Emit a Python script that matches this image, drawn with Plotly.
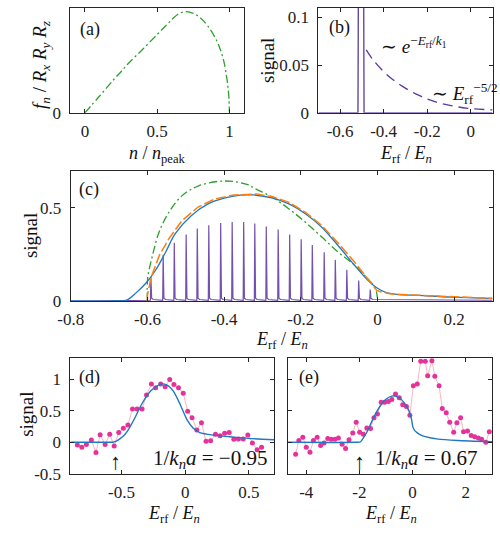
import plotly.graph_objects as go

# ---------------- data ----------------
# (a) theory curve
a_n = [0, 0.1, 0.2, 0.25, 0.3, 0.4, 0.5, 0.55, 0.6, 0.65, 0.7, 0.75, 0.8, 0.85, 0.9, 0.93, 0.96, 0.98, 0.99, 0.997, 1.0]
a_f = [0, 0.79, 1.59, 1.96, 2.35, 3.03, 3.73, 4.08, 4.43, 4.72, 4.82, 4.74, 4.52, 4.14, 3.60, 3.15, 2.50, 1.75, 1.25, 0.70, 0]

# (b) single spectrum and tail
b_x = [-0.7, -0.518, -0.504, -0.49, 0.1]
b_y = [0, 0, 1.0, 0, 0]
b_tail_x = [-0.48, -0.45, -0.39, -0.315, -0.24, -0.165, -0.09, -0.015, 0.1]
b_tail_y = [0.066, 0.056, 0.041, 0.028, 0.0185, 0.0117, 0.0076, 0.0048, 0.0031]

# (c) spikes
c_spike_pos = [-0.591, -0.559, -0.530, -0.499, -0.470, -0.440, -0.409, -0.379, -0.349, -0.320,
               -0.290, -0.259, -0.229, -0.199, -0.170, -0.139, -0.110, -0.080, -0.049, -0.019]
c_spike_h = [0.13, 0.248, 0.313, 0.357, 0.389, 0.407, 0.419, 0.424, 0.424, 0.416,
             0.401, 0.384, 0.357, 0.332, 0.301, 0.262, 0.221, 0.168, 0.110, 0.062]
# (c) green dash-dot
c_green_x = [-0.6, -0.5993, -0.5865, -0.5695, -0.5441, -0.5103, -0.4679, -0.40, -0.3408, -0.3154, -0.273,
             -0.2308, -0.1884, -0.1459, -0.1036, -0.0612, -0.0274, -0.0061, -0.0003]
c_green_y = [0, 0.124, 0.247, 0.371, 0.477, 0.565, 0.618, 0.645, 0.627, 0.600, 0.556,
             0.495, 0.424, 0.345, 0.265, 0.195, 0.124, 0.071, 0.018]
# (c) orange dashed
c_orange_x = [-0.6, -0.6, -0.591, -0.569, -0.544, -0.510, -0.468, -0.425, -0.375, -0.33, -0.315, -0.273,
              -0.231, -0.188, -0.146, -0.104, -0.061, -0.027, -0.002, 0.008, 0.032, 0.049, 0.108, 0.193, 0.3]
c_orange_y = [0, 0.03, 0.124, 0.245, 0.335, 0.432, 0.505, 0.548, 0.570, 0.575, 0.575, 0.560,
              0.530, 0.477, 0.407, 0.315, 0.212, 0.124, 0.057, 0.050, 0.039, 0.036, 0.030, 0.021, 0.014]
# (c) blue solid
c_blue_x = [-0.8, -0.68, -0.654, -0.629, -0.603, -0.578, -0.552, -0.527, -0.485, -0.442, -0.400, -0.358, -0.324,
            -0.273, -0.231, -0.188, -0.146, -0.104, -0.061, -0.027, -0.002, 0.023, 0.049, 0.108, 0.193, 0.3]
c_blue_y = [0, 0, 0.005, 0.045, 0.098, 0.168, 0.265, 0.363, 0.460, 0.522, 0.553, 0.569, 0.570,
            0.553, 0.522, 0.469, 0.398, 0.301, 0.195, 0.115, 0.071, 0.045, 0.036, 0.030, 0.021, 0.014]

# (d) data and fit
d_x = [-0.846, -0.811, -0.775, -0.736, -0.700, -0.667, -0.628, -0.592, -0.557, -0.521, -0.485, -0.449,
       -0.413, -0.377, -0.338, -0.303, -0.265, -0.231, -0.192, -0.157, -0.121, -0.088, -0.052, -0.015,
       0.020, 0.054, 0.092, 0.128, 0.164, 0.200, 0.238, 0.274, 0.310, 0.346, 0.382, 0.418, 0.456, 0.492,
       0.528, 0.565, 0.60]
d_y = [-0.042, -0.078, -0.036, 0.036, -0.161, 0.120, -0.036, 0.130, -0.057, 0.156, 0.224, 0.276,
       0.531, 0.531, 0.531, 0.755, 0.927, 0.870, 0.927, 0.885, 1.0, 0.922, 0.870, 0.781,
       0.495, 0.391, 0.198, 0.313, 0.016, 0.026, 0.130, 0.104, 0.146, 0.156, 0.047, 0.052, 0.052, 0.115,
       -0.01, -0.12, -0.08]
d_fit_x = [-0.9, -0.6, -0.565, -0.55, -0.53, -0.513, -0.48, -0.449, -0.398, -0.346, -0.269, -0.192, -0.141,
           -0.09, -0.038, 0.013, 0.064, 0.115, 0.218, 0.346, 0.5, 0.7]
d_fit_y = [0, 0, 0.002, 0.01, 0.03, 0.055, 0.11, 0.19, 0.375, 0.59, 0.82, 0.927, 0.91,
           0.807, 0.599, 0.365, 0.224, 0.156, 0.115, 0.089, 0.063, 0.04]

# (e) data and fit
e_x = [-4.40, -4.28, -4.13, -4.00, -3.86, -3.73, -3.59, -3.46, -3.33, -3.19, -3.06, -2.92, -2.79, -2.65,
       -2.52, -2.39, -2.25, -2.12, -1.99, -1.85, -1.72, -1.58, -1.45, -1.32, -1.18, -1.05, -0.91, -0.78,
       -0.64, -0.50, -0.37, -0.23, -0.10, 0.03, 0.18, 0.31, 0.48, 0.57, 0.73, 0.84, 1.00, 1.12, 1.27,
       1.40, 1.55, 1.67, 1.81, 1.92, 2.07, 2.21, 2.34, 2.48, 2.60, 2.76, 2.89]
e_y = [-0.19, 0.03, 0.08, -0.08, -0.16, 0.03, 0.08, -0.05, -0.01, 0.06, 0.05, 0.05, 0.07, -0.03,
       -0.10, 0.04, 0.15, 0.32, 0.16, 0.13, 0.23, 0.22, 0.39, 0.45, 0.64, 0.64, 0.65, 0.68,
       0.77, 0.71, 0.60, 0.57, 0.43, 0.90, 0.93, 1.29, 1.29, 1.06, 1.30, 1.05, 0.90, 0.54, 0.47,
       0.32, 0.16, 0.31, 0.39, 0.17, 0.18, 0.11, 0.09, 0.07, 0.05, 0.0, 0.17]
e_fit_x = [-4.7, -2.1, -1.96, -1.85, -1.72, -1.47, -1.23, -0.99, -0.74, -0.50, -0.26, -0.12, -0.04, 0.01,
           0.08, 0.17, 0.30, 0.48, 0.97, 1.70, 3.0]
e_fit_y = [0, 0, 0.005, 0.07, 0.16, 0.39, 0.57, 0.69, 0.74, 0.71, 0.60, 0.49, 0.37, 0.25,
           0.19, 0.155, 0.12, 0.09, 0.05, 0.03, 0.01]

# ---------------- styling ----------------
W, H = 500, 538
FONT = "Liberation Serif"
BLUE = "#1f78c1"
ORANGE = "#ff7f0e"
GREEN = "#2ca02c"
PURPLE = "#5b3a9c"
PINK = "#e5329a"
AX = "#262626"


def px(x):
    return x / W


def py(y):
    return 1 - y / H


def axis(domain, rng, tickvals, ticktext, anchor, standoff, showlabels=True):
    return dict(domain=domain, range=rng, tickvals=tickvals, ticktext=ticktext,
                anchor=anchor, showline=True, linecolor=AX, linewidth=1, mirror="ticks",
                ticks="inside", ticklen=4, tickcolor=AX, showgrid=False, zeroline=False,
                showticklabels=showlabels, tickfont=dict(family=FONT, size=17, color="#222"),
                ticklabelstandoff=standoff, fixedrange=True)


fig = go.Figure()

# (a)
fig.add_trace(go.Scatter(x=a_n, y=a_f, mode="lines", xaxis="x", yaxis="y",
                         line=dict(color=GREEN, width=1.3, dash="8px,3px,2px,3px"), line_shape="spline"))
# (b)
fig.add_trace(go.Scatter(x=b_x, y=b_y, mode="lines", xaxis="x2", yaxis="y2",
                         line=dict(color=PURPLE, width=1.3)))
fig.add_trace(go.Scatter(x=b_tail_x, y=b_tail_y, mode="lines", xaxis="x2", yaxis="y2",
                         line=dict(color=PURPLE, width=1.3, dash="10px,6px"), line_shape="spline"))
# (c) spikes built from positions/heights
sx, sy = [-0.8], [0]
for p, h in zip(c_spike_pos, c_spike_h):
    sx += [p - 0.0012, p, p + 0.002, p + 0.006]
    sy += [0.004, h, 0.015, 0.008]
sx += [0.3]
sy += [0.004]
fig.add_trace(go.Scatter(x=sx, y=sy, mode="lines", xaxis="x3", yaxis="y3",
                         line=dict(color="rgba(91,50,160,0.85)", width=1.2)))
fig.add_trace(go.Scatter(x=c_green_x, y=c_green_y, mode="lines", xaxis="x3", yaxis="y3",
                         line=dict(color=GREEN, width=1.3, dash="8px,3px,2px,3px"), line_shape="spline"))
fig.add_trace(go.Scatter(x=c_blue_x, y=c_blue_y, mode="lines", xaxis="x3", yaxis="y3",
                         line=dict(color=BLUE, width=1.3), line_shape="spline"))
fig.add_trace(go.Scatter(x=c_orange_x, y=c_orange_y, mode="lines", xaxis="x3", yaxis="y3",
                         line=dict(color=ORANGE, width=1.5, dash="10px,3px")))
# (d)
fig.add_trace(go.Scatter(x=d_x, y=d_y, mode="lines+markers", xaxis="x4", yaxis="y4",
                         line=dict(color="rgba(250,150,160,0.7)", width=1),
                         marker=dict(color=PINK, size=5)))
fig.add_trace(go.Scatter(x=d_fit_x, y=d_fit_y, mode="lines", xaxis="x4", yaxis="y4",
                         line=dict(color=BLUE, width=1.4), line_shape="spline", line_smoothing=0.6))
# (e)
fig.add_trace(go.Scatter(x=e_x, y=e_y, mode="lines+markers", xaxis="x5", yaxis="y5",
                         line=dict(color="rgba(250,150,160,0.7)", width=1),
                         marker=dict(color=PINK, size=5), cliponaxis=True))
fig.add_trace(go.Scatter(x=e_fit_x, y=e_fit_y, mode="lines", xaxis="x5", yaxis="y5",
                         line=dict(color=BLUE, width=1.4), line_shape="spline", line_smoothing=0.6))

# axes
dom_a_x = [px(59), px(237)]
dom_b_x = [px(313.5), px(492.3)]
dom_ab_y = [py(115), py(8)]
dom_c_x = [px(59.3), px(492.3)]
dom_c_y = [py(306.7), py(174)]
dom_d_x = [px(59), px(268.3)]
dom_e_x = [px(282), px(492)]
dom_de_y = [py(482.7), py(364.3)]

XS, YS = 3, 5
fig.update_layout(
    width=W, height=H, margin=dict(l=0, r=0, t=0, b=0),
    paper_bgcolor="white", plot_bgcolor="white", showlegend=False,
    xaxis=axis(dom_a_x, [-0.1, 1.1], [0, 0.5, 1], ["0", "0.5", "1"], "y", XS),
    yaxis=axis(dom_ab_y, [0, 5], [0, 5], ["0", "5"], "x", YS),
    xaxis2=axis(dom_b_x, [-0.7, 0.1], [-0.6, -0.4, -0.2, 0], ["-0.6", "-0.4", "-0.2", "0"], "y2", XS),
    yaxis2=axis(dom_ab_y, [0, 0.11], [0, 0.05, 0.1], ["0", "0.05", "0.1"], "x2", YS),
    xaxis3=axis(dom_c_x, [-0.8, 0.3], [-0.8, -0.6, -0.4, -0.2, 0, 0.2],
                ["-0.8", "-0.6", "-0.4", "-0.2", "0", "0.2"], "y3", XS),
    yaxis3=axis(dom_c_y, [0, 0.7], [0, 0.5], ["0", "0.5"], "x3", YS),
    xaxis4=axis(dom_d_x, [-0.9, 0.7], [-0.5, 0, 0.5], ["-0.5", "0", "0.5"], "y4", XS),
    yaxis4=axis(dom_de_y, [-0.5, 1.35], [-0.5, 0, 0.5, 1], ["-0.5", "0", "0.5", "1"], "x4", YS),
    xaxis5=axis(dom_e_x, [-4.7, 3.0], [-4, -2, 0, 2], ["-4", "-2", "0", "2"], "y5", XS),
    yaxis5=axis(dom_de_y, [-0.5, 1.35], [-0.5, 0, 0.5, 1], ["-0.5", "0", "0.5", "1"], "x5", YS,
                showlabels=False),
)

ERF = "<i>E</i><sub>rf</sub> / <i>E<sub>n</sub></i>"
ann = []


def text(x, y, t, size=19, angle=0, xanchor="center", xref="paper", yref="paper"):
    ann.append(dict(x=x, y=y, xref=xref, yref=yref, text=t, showarrow=False, textangle=angle,
                    xanchor=xanchor, yanchor="middle",
                    font=dict(family=FONT, size=size, color="#111")))


# axis titles
text(px(29), py(66), "<i>f<sub>n</sub></i> / <i>R<sub>x</sub> R<sub>y</sub> R<sub>z</sub></i>", size=19, angle=-90)
text(px(148), py(157), "<i>n</i> / <i>n</i><sub>peak</sub>", size=18)
text(px(262), py(62), "signal", angle=-90)
text(px(403), py(157), ERF, size=18)
text(px(18), py(240), "signal", angle=-90)
text(px(276), py(347), ERF, size=18)
text(px(13), py(422), "signal", angle=-90)
text(px(165), py(524), ERF, size=18)
text(px(388), py(524), ERF, size=18)
# panel labels
text(px(79), py(30), "(a)", size=18)
text(px(335), py(28), "(b)", size=18)
text(px(78), py(193), "(c)", size=18)
text(px(79), py(385), "(d)", size=18)
text(px(304), py(385), "(e)", size=18)
# (b) annotations
text(px(376), py(46), "∼ <i>e</i><sup>−<i>E</i><sub>rf</sub>/<i>k</i><sub>1</sub></sup>", size=19, xanchor="left")
text(px(428), py(95), "∼ <i>E</i><sub>rf</sub><sup>−5/2</sup>", size=19, xanchor="left")
# (d), (e) annotations
text(-0.55, -0.3, "↑", size=22, xref="x4", yref="y4")
text(0.66, -0.27, "1/<i>k<sub>n</sub>a</i> = −0.95", size=21, xanchor="right", xref="x4", yref="y4")
text(-2.0, -0.3, "↑", size=22, xref="x5", yref="y5")
text(2.55, -0.27, "1/<i>k<sub>n</sub>a</i> = 0.67", size=21, xanchor="right", xref="x5", yref="y5")

fig.update_layout(annotations=ann)
fig.write_html("out.html")
